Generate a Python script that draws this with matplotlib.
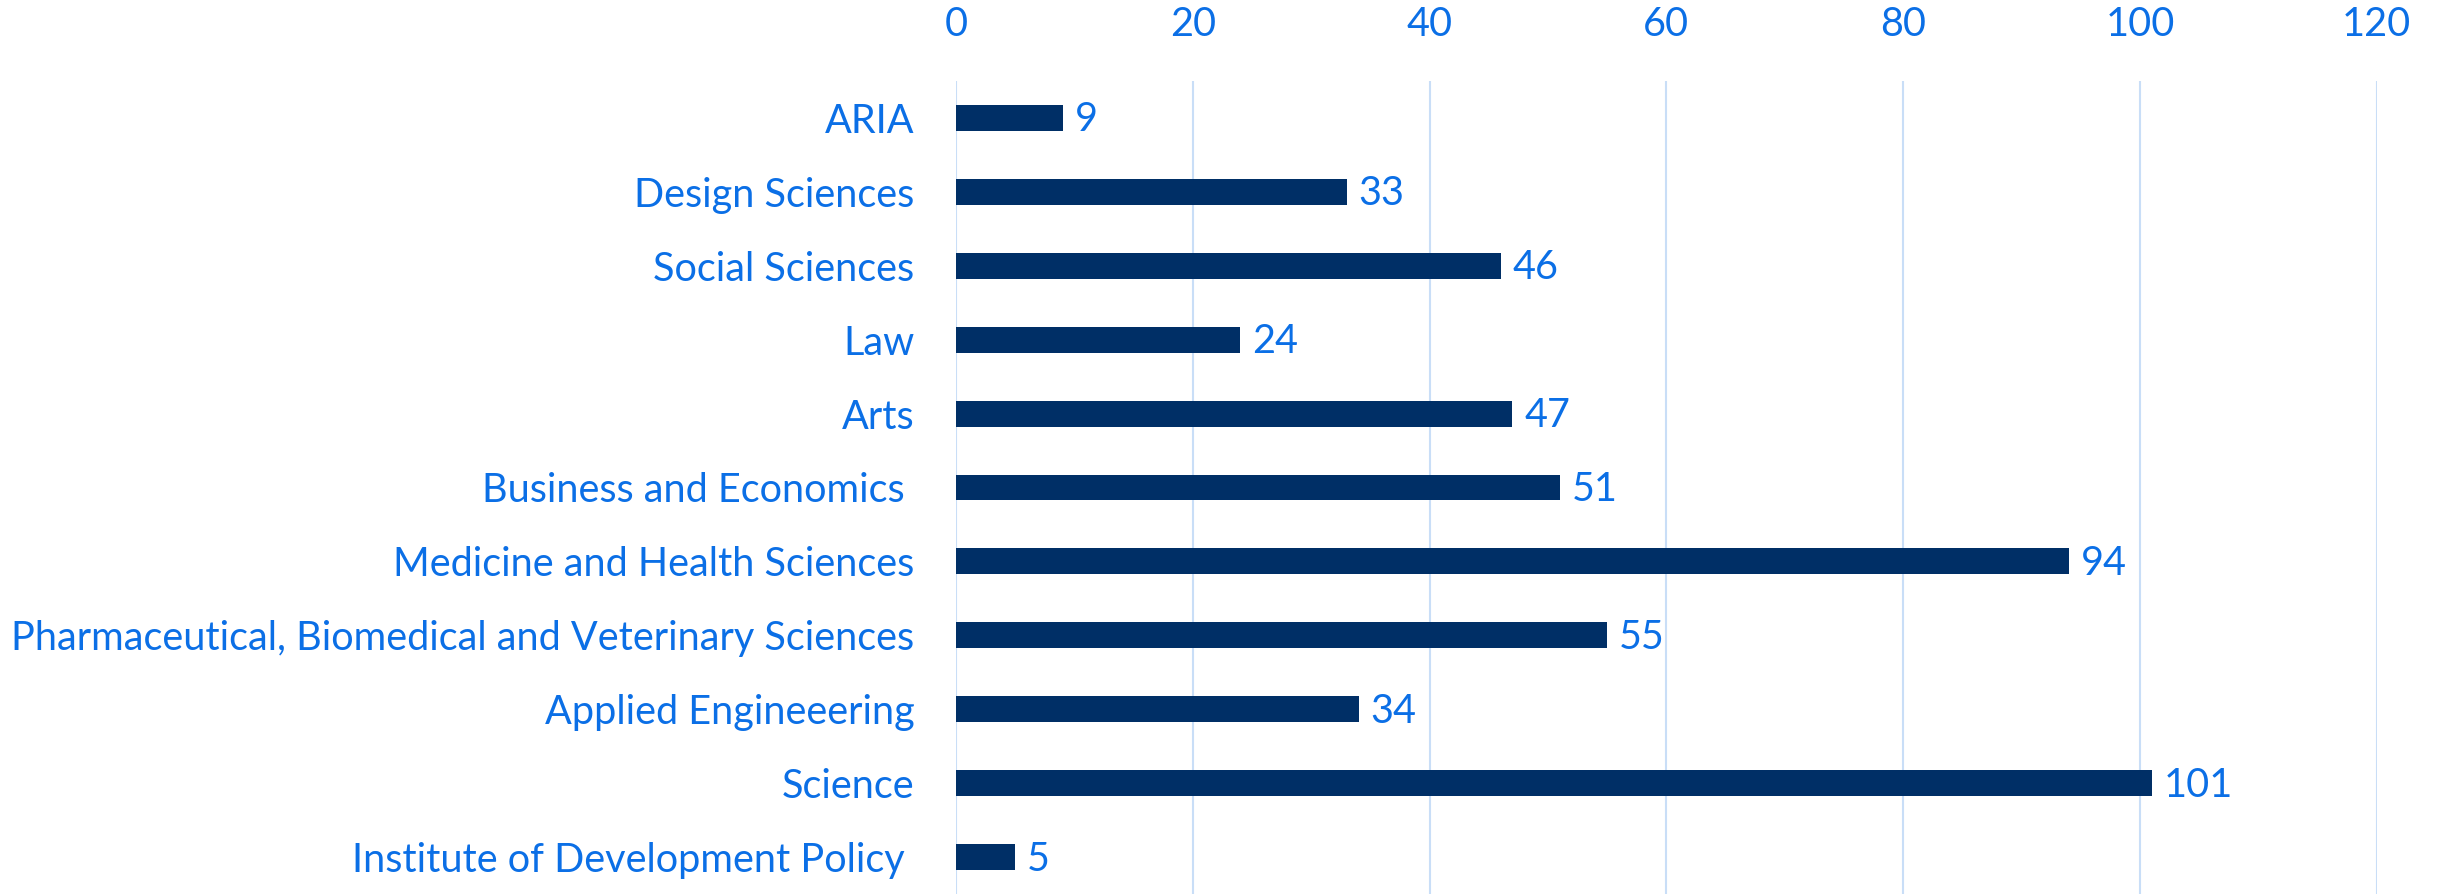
import matplotlib.pyplot as plt

categories = [
    "ARIA",
    "Design Sciences",
    "Social Sciences",
    "Law",
    "Arts",
    "Business and Economics ",
    "Medicine and Health Sciences",
    "Pharmaceutical, Biomedical and Veterinary Sciences",
    "Applied Engineeering",
    "Science",
    "Institute of Development Policy ",
]
values = [9, 33, 46, 24, 47, 51, 94, 55, 34, 101, 5]
x_ticks = [0, 20, 40, 60, 80, 100, 120]

text_color = "#0B6FE6"
bar_color = "#002F66"
grid_color = "#C9DEF7"
fs = 28.5

plt.rcParams["font.family"] = ["Lato", "DejaVu Sans"]

fig = plt.figure(figsize=(24.38, 8.94), dpi=100)
ax = fig.add_axes([956 / 2438, 0.0, (2376.7 - 956) / 2438, 1 - 81 / 894])

pos = list(range(len(categories)))
ax.barh(pos, values, height=0.35, color=bar_color, zorder=3)
for p, v in zip(pos, values):
    ax.annotate(str(v), (v, p), xytext=(12, -2), textcoords="offset pixels",
                va="center", ha="left", fontsize=fs, color=text_color)

ax.set_xlim(0, 120)
ax.set_ylim(len(categories) - 0.5, -0.5)
ax.set_xticks(x_ticks)
ax.set_yticks(pos)
ax.set_yticklabels(categories)
ax.xaxis.tick_top()
ax.tick_params(axis="x", length=0, pad=27, labelsize=fs, labelcolor=text_color)
ax.tick_params(axis="y", length=0, pad=30, labelsize=fs, labelcolor=text_color)
ax.grid(axis="x", color=grid_color, linewidth=1.5, zorder=0)
ax.grid(axis="y", visible=False)
for s in ax.spines.values():
    s.set_visible(False)

fig.savefig("out.png", dpi=100)
